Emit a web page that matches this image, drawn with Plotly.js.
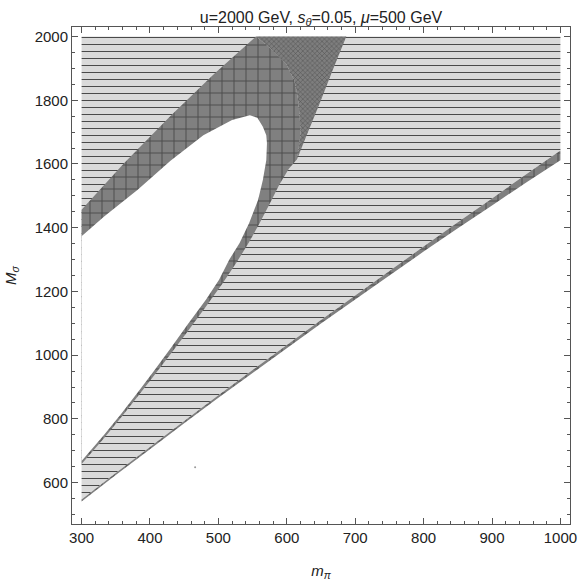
<!DOCTYPE html>
<html>
<head>
<meta charset="utf-8">
<script src="https://cdn.plot.ly/plotly-3.0.1.min.js"></script>
<style>
  html, body { margin: 0; padding: 0; background: #fff; }
  #chart { width: 581px; height: 586px; }
</style>
</head>
<body>
<div id="chart"></div>
<script>
// ===== Region plot: m_pi vs M_sigma =====

// --- Lower edge (straight-ish boundary) ---
const lowerX   = [300, 350, 400, 450, 500, 550, 600, 650, 700, 750, 800, 850, 900, 950, 1000];
const lowerLoY = [541, 624, 705, 786, 866, 944, 1022, 1099, 1175, 1250, 1325, 1398, 1470, 1542, 1612];
const lowerHiY = [547, 630, 712, 793, 874, 953, 1032, 1110, 1187, 1264, 1341, 1417, 1492, 1568, 1642];

// --- Dark band around the white tongue (outer outline) ---
const bandX = [300, 333, 358, 382, 406, 431, 455, 480, 505, 526, 545, 560, 575, 589, 603, 615, 620, 619, 616, 611, 599, 580, 555, 494, 431, 362, 300];
const bandY = [658, 740, 805, 870, 936, 1006, 1074, 1147, 1222, 1289, 1355, 1413, 1475, 1535, 1585, 1615, 1690, 1748, 1810, 1862, 1915, 1956, 2000, 1883, 1753, 1602, 1456];

// --- Fine cross-hatched wedge near the top ---
const fineX = [555, 687, 667, 648, 628, 615, 620, 619, 616, 611, 599, 580];
const fineY = [2000, 2000, 1894, 1790, 1685, 1615, 1690, 1748, 1810, 1862, 1915, 1956];

// --- White tongue (excluded region) ---
const tongueX = [300, 333, 382, 430, 478, 520, 546, 557, 565, 570, 571, 570, 565, 558, 545, 531, 516, 501, 482, 455, 431, 406, 382, 358, 333, 300];
const tongueY = [1373, 1435, 1519, 1610, 1690, 1738, 1753, 1745, 1717, 1690, 1665, 1612, 1550, 1487, 1415, 1352, 1300, 1237, 1175, 1096, 1024, 951, 883, 816, 750, 668];

// --- Stray speck in the white area ---
const speckX = [466];
const speckY = [648];

// --- Region extents ---
const xMin = 300, xMax = 1000, yTop = 2000;

const LIGHT = "#dadada";
const DARK = "#808080";
const HATCH = "#4a4a4a";

function region(x, y, bg, shape, size, solidity, fg) {
  return {
    x: x, y: y,
    type: "scatter", mode: "none",
    fill: "toself", fillcolor: bg,
    fillpattern: { shape: shape, size: size, solidity: solidity, fgcolor: fg || HATCH, bgcolor: bg, fillmode: "replace" },
    hoverinfo: "skip", showlegend: false,
  };
}

// light hatched area above the lower edge
const lightX = lowerX.concat([xMax, xMin]);
const lightY = lowerHiY.concat([yTop, yTop]);

// thin dark strip along the lower edge
const stripX = lowerX.concat(lowerX.slice().reverse());
const stripY = lowerLoY.concat(lowerHiY.slice().reverse());

const traces = [
  region(lightX, lightY, LIGHT, "-", 7, 0.143),
  region(stripX, stripY, DARK, "+", 12, 0.15),
  region(bandX, bandY, DARK, "+", 12, 0.15),
  region(fineX, fineY, "#7e7e7e", "x", 3.4, 0.28, "#4e4e4e"),
  {
    x: tongueX, y: tongueY, type: "scatter", mode: "none",
    fill: "toself", fillcolor: "#ffffff", hoverinfo: "skip", showlegend: false,
  },
  {
    x: speckX, y: speckY, type: "scatter", mode: "markers",
    marker: { size: 2, color: "#999" }, hoverinfo: "skip", showlegend: false,
  },
];

const axisFont = { family: "Liberation Sans, Arial, sans-serif", size: 15, color: "#222" };

const layout = {
  width: 581, height: 586,
  margin: { l: 72, r: 11, t: 27, b: 62 },
  paper_bgcolor: "#fff", plot_bgcolor: "#fff",
  showlegend: false,
  title: {
    text: "u=2000 GeV, <i>s</i><sub><i>θ</i></sub>=0.05, <i>μ</i>=500 GeV",
    font: { family: "Liberation Sans, Arial, sans-serif", size: 16, color: "#222" },
    xref: "paper", x: 0.5, xanchor: "center",
    yref: "container", y: 0.971, yanchor: "middle",
  },
  xaxis: {
    range: [286, 1014], tickmode: "linear", tick0: 0, dtick: 100,
    ticks: "inside", ticklen: 6, tickcolor: "#555", tickwidth: 1,
    minor: { dtick: 20, ticklen: 3, tickcolor: "#555", ticks: "inside" },
    showline: true, linecolor: "#555", linewidth: 1, mirror: "allticks",
    showgrid: false, zeroline: false, tickfont: axisFont,
    title: { text: "<i>m</i><sub><i>π</i></sub>", font: axisFont, standoff: 20 },
  },
  yaxis: {
    range: [470, 2030], tickmode: "linear", tick0: 0, dtick: 200,
    ticks: "inside", ticklen: 6, tickcolor: "#555", tickwidth: 1,
    minor: { dtick: 50, ticklen: 3, tickcolor: "#555", ticks: "inside" },
    showline: true, linecolor: "#555", linewidth: 1, mirror: "allticks",
    showgrid: false, zeroline: false, tickfont: axisFont,
    title: { text: "<i>M</i><sub><i>σ</i></sub>", font: axisFont, standoff: 14 },
  },
};

Plotly.newPlot("chart", traces, layout, { displayModeBar: false, staticPlot: true });
</script>
</body>
</html>
